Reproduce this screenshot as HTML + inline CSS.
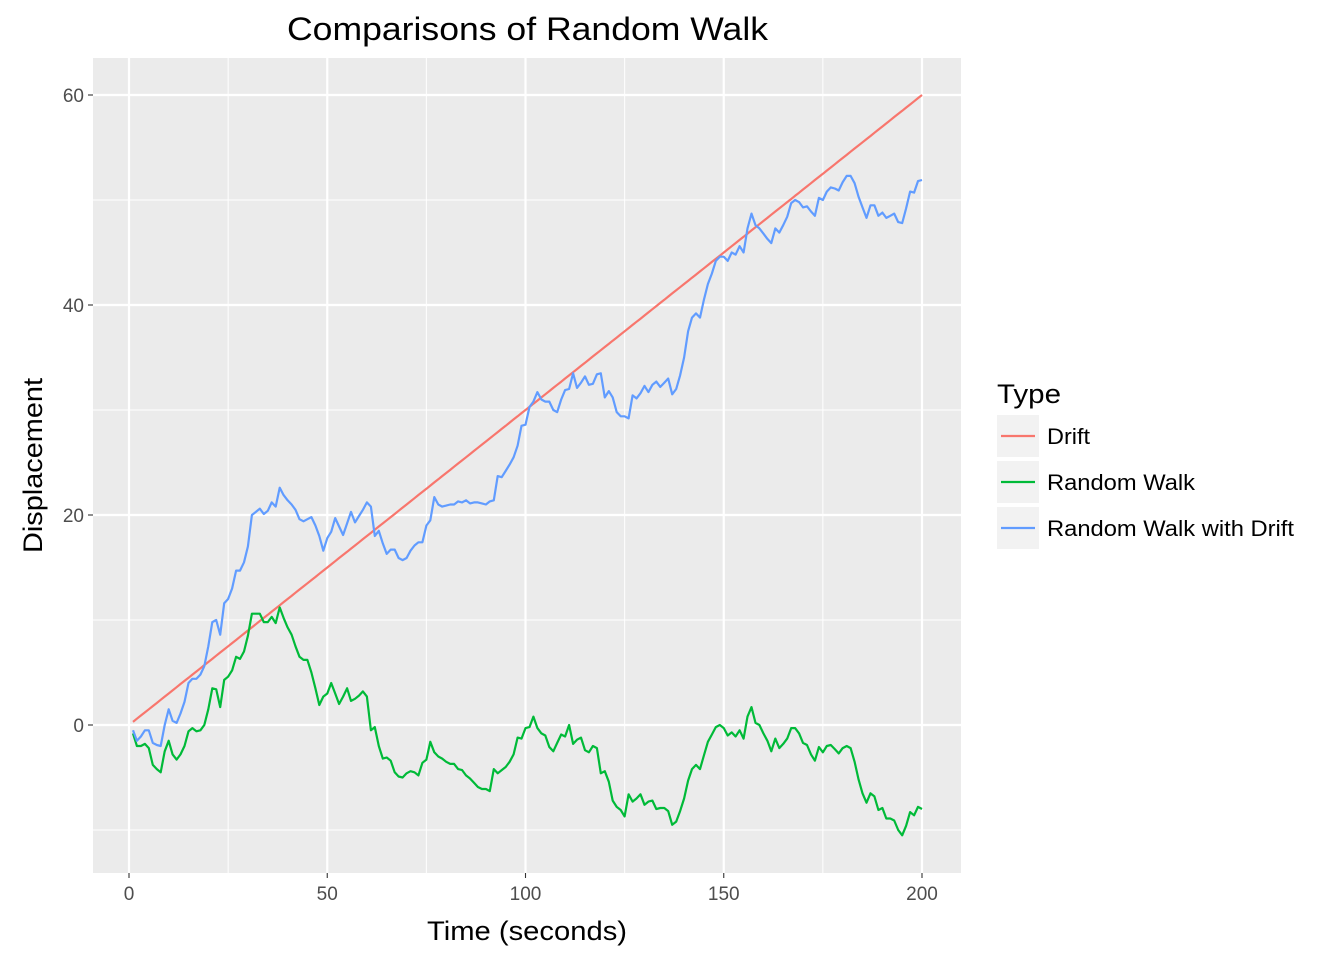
<!DOCTYPE html>
<html><head><meta charset="utf-8"><style>
body{margin:0;background:#fff;font-family:"Liberation Sans",sans-serif;}
</style></head><body>
<svg id="chart" width="1344" height="960" xmlns="http://www.w3.org/2000/svg" font-family="Liberation Sans, sans-serif"></svg>
<script>
const times = Array.from({length:200},(_,i)=>i+1);
const driftStart = 0.3, driftEnd = 60;
const randomWalk = [-0.8,-2,-2,-1.8,-2.2,-3.8,-4.2,-4.5,-2.5,-1.5,-2.8,-3.3,-2.8,-2,-0.6,-0.3,-0.6,-0.5,0,1.5,3.5,3.4,1.7,4.3,4.6,5.2,6.5,6.3,7,8.5,10.6,10.6,10.6,9.8,9.8,10.3,9.7,11.2,10.2,9.3,8.6,7.5,6.5,6.2,6.2,5,3.5,1.9,2.7,3,4,3,2,2.7,3.5,2.3,2.5,2.8,3.2,2.7,-0.5,-0.2,-2,-3.2,-3.1,-3.4,-4.5,-4.9,-5,-4.6,-4.4,-4.5,-4.8,-3.6,-3.3,-1.6,-2.6,-3,-3.2,-3.5,-3.7,-3.7,-4.2,-4.3,-4.8,-5.1,-5.5,-5.9,-6.1,-6.1,-6.3,-4.2,-4.6,-4.3,-4,-3.5,-2.8,-1.2,-1.3,-0.3,-0.2,0.8,-0.3,-0.8,-1,-2.1,-2.5,-1.7,-0.9,-1.1,0,-1.8,-1.4,-1.2,-2.4,-2.6,-2,-2.2,-4.6,-4.4,-5.4,-7.2,-7.8,-8.1,-8.7,-6.6,-7.3,-7,-6.6,-7.6,-7.3,-7.2,-8,-7.9,-7.9,-8.2,-9.5,-9.2,-8.2,-7,-5.3,-4.2,-3.8,-4.2,-2.9,-1.6,-0.9,-0.2,0,-0.3,-1,-0.7,-1.1,-0.5,-1.3,0.8,1.7,0.2,0,-0.8,-1.5,-2.5,-1.3,-2.2,-1.8,-1.3,-0.3,-0.3,-0.8,-1.7,-1.9,-2.8,-3.4,-2.1,-2.6,-2,-1.9,-2.3,-2.7,-2.2,-2,-2.2,-3.5,-5.2,-6.5,-7.4,-6.5,-6.8,-8.1,-7.9,-8.9,-8.9,-9.1,-10,-10.5,-9.6,-8.3,-8.6,-7.8,-8];
const walkDrift = [-0.5,-1.5,-1.1,-0.5,-0.5,-1.7,-1.9,-2,0,1.5,0.4,0.2,1.1,2.2,4,4.4,4.4,4.8,5.6,7.5,9.8,10,8.6,11.6,12,13,14.7,14.7,15.5,17,20,20.3,20.6,20.1,20.4,21.2,20.8,22.6,21.9,21.4,21,20.5,19.6,19.4,19.6,19.8,19,18,16.6,17.8,18.4,19.7,18.9,18.1,19.2,20.3,19.3,19.9,20.5,21.2,20.8,18,18.5,17.3,16.3,16.7,16.7,15.9,15.7,15.9,16.6,17.1,17.4,17.4,19,19.5,21.7,21,20.8,20.9,21,21,21.3,21.2,21.4,21.1,21.2,21.2,21.1,21,21.3,21.4,23.7,23.6,24.2,24.8,25.5,26.6,28.5,28.6,30.3,30.8,31.7,31,30.8,30.8,30,29.8,31,31.9,32,33.5,32.1,32.6,33.2,32.4,32.5,33.4,33.5,31.2,31.8,31.2,29.8,29.4,29.4,29.2,31.4,31.1,31.6,32.3,31.7,32.4,32.7,32.2,32.6,33,31.5,32,33.3,35,37.5,38.8,39.2,38.8,40.5,42,43,44.2,44.6,44.6,44.2,45,44.8,45.6,45,47.3,48.7,47.6,47.3,46.8,46.3,45.9,47.3,46.9,47.6,48.4,49.7,50,49.8,49.3,49.4,48.9,48.5,50.2,50,50.8,51.2,51.1,50.9,51.7,52.3,52.3,51.6,50.3,49.3,48.3,49.5,49.5,48.5,48.8,48.3,48.5,48.7,47.9,47.8,49.2,50.8,50.7,51.8,51.9];
const xTicks = [0,50,100,150,200];
const yTicks = [0,20,40,60];
const legendLabels = ["Drift","Random Walk","Random Walk with Drift"];
const legendWidths = [43,148,247];
const colors = ["#F8766D","#00BA38","#619CFF"];

const NS="http://www.w3.org/2000/svg";
const svg=document.getElementById('chart');
const P={l:93,r:961,t:58,b:873};
const X=v=>129+(v-0)*(922-129)/200;
const Y=v=>725-v*(725-95)/60;
function mk(tag,at,txt){const e=document.createElementNS(NS,tag);for(const k in at)e.setAttribute(k,at[k]);if(txt!==undefined)e.textContent=txt;svg.appendChild(e);return e;}

let bg=mk('rect',{x:P.l,y:P.t,width:P.r-P.l,height:P.b-P.t,fill:'#EBEBEB'});


for(let i=0;i<xTicks.length-1;i++){const m=(xTicks[i]+xTicks[i+1])/2;
 const g=mk('line',{x1:X(m),x2:X(m),y1:P.t,y2:P.b,stroke:'#fff','stroke-width':1});
 
 }
for(let v=-10;v<=50;v+=20){const g=mk('line',{x1:P.l,x2:P.r,y1:Y(v),y2:Y(v),stroke:'#fff','stroke-width':1});
 
 }
xTicks.forEach(v=>{const g=mk('line',{x1:X(v),x2:X(v),y1:P.t,y2:P.b,stroke:'#fff','stroke-width':2.2});
 
 
 const t=mk('line',{x1:X(v),x2:X(v),y1:P.b,y2:P.b+5,stroke:'#333','stroke-width':1.1});
 
 
 const l=mk('text',{x:X(v),y:P.b+27,'text-anchor':'middle','font-size':19,fill:'#4D4D4D'},v);
 
 });
yTicks.forEach(v=>{const g=mk('line',{x1:P.l,x2:P.r,y1:Y(v),y2:Y(v),stroke:'#fff','stroke-width':2.2});
 
 
 const t=mk('line',{x1:P.l-5,x2:P.l,y1:Y(v),y2:Y(v),stroke:'#333','stroke-width':1.1});
 
 
 const l=mk('text',{x:P.l-9,y:Y(v)+7,'text-anchor':'end','font-size':19,fill:'#4D4D4D'},v);
 
 });

function line(vals,col,name){const d=vals.map((v,i)=>(i?'L':'M')+X(times[i]).toFixed(1)+','+Y(v).toFixed(1)).join('');
 const p=mk('path',{d:d,fill:'none',stroke:col,'stroke-width':2.2,'stroke-linejoin':'round'});
 
 }
line(times.map((t,i)=>driftStart+(driftEnd-driftStart)*i/(times.length-1)),colors[0],'drift-line');
line(randomWalk,colors[1],'random-walk-line');
line(walkDrift,colors[2],'random-walk-drift-line');

let tt=mk('text',{x:287,y:40,'font-size':32,fill:'#000',textLength:481,lengthAdjust:'spacingAndGlyphs'},'Comparisons of Random Walk');


let xt=mk('text',{x:427,y:940,'font-size':27,fill:'#000',textLength:200,lengthAdjust:'spacingAndGlyphs'},'Time (seconds)');


let yt=mk('text',{x:0,y:0,'font-size':27,fill:'#000',textLength:175,lengthAdjust:'spacingAndGlyphs',transform:'translate(42,553) rotate(-90)'},'Displacement');


let lt=mk('text',{x:997,y:403,'font-size':27,fill:'#000',textLength:64,lengthAdjust:'spacingAndGlyphs'},'Type');


legendLabels.forEach((lab,i)=>{const y0=415+i*46;
 const k=mk('rect',{x:997,y:y0,width:42,height:42,fill:'#F2F2F2'});
 
 
 const s=mk('line',{x1:1001,x2:1035,y1:y0+21,y2:y0+21,stroke:colors[i],'stroke-width':2.2});
 
 
 const t=mk('text',{x:1047,y:y0+29,'font-size':22,fill:'#000',textLength:legendWidths[i],lengthAdjust:'spacingAndGlyphs'},lab);
 
 });
</script>
</body></html>
